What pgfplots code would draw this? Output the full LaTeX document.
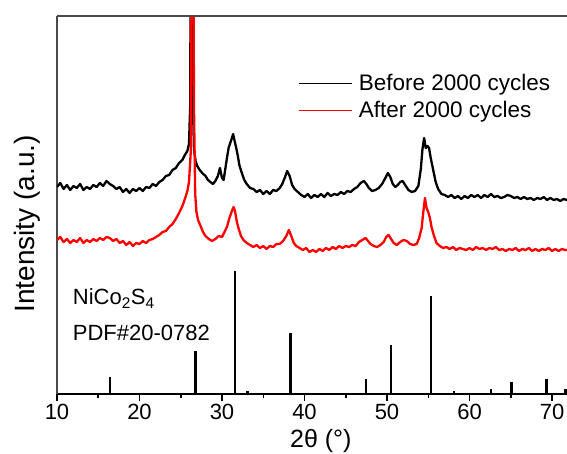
\documentclass[border=0pt]{standalone}
\usepackage{fontspec}
\setmainfont{Liberation Sans}
\usepackage{pgfplots}
\pgfplotsset{compat=1.18}

\definecolor{axgray}{HTML}{4A4A4A}

\begin{document}
\begin{tikzpicture}
  % the reference is cut off at the right, just past 2theta = 71.8
  \useasboundingbox (-57pt,-60pt) rectangle (510pt,394pt);
  \clip (-57pt,-60pt) rectangle (510pt,394pt);
  \begin{axis}[
      at={(0pt,0pt)}, anchor=south west,
      scale only axis,
      width=536.25pt, height=378pt,
      xmin=10, xmax=75,
      ymin=0, ymax=378,
      axis lines*=left,
      x axis line style={-, black, line width=1.5pt},
      y axis line style={-, axgray, line width=1.5pt},
      xtick={10,20,...,70},
      minor x tick num=1,
      ytick=\empty,
      tick align=outside,
      major tick length=7pt,
      minor tick length=4pt,
      every tick/.style={black, line width=1.5pt},
      xticklabel style={font=\fontsize{22}{22}\selectfont},
      /pgf/number format/assume math mode=true,
      xlabel={2θ (°)},
      xlabel style={font=\fontsize{25}{25}\selectfont, at={(axis description cs:0.492,-0.124)}, anchor=center},
      ylabel={Intensity (a.u.)},
      ylabel style={font=\fontsize{28}{28}\selectfont, at={(axis description cs:-0.056,0.45)}, anchor=center},
      legend style={draw=none, fill=none, at={(axis cs:39.2,297)}, anchor=west,
        inner sep=0pt, font=\fontsize{22.5}{22.5}\selectfont,
        nodes={inner sep=1pt}, row sep=7pt},
      legend cell align=left,
      legend image code/.code={\draw[#1, line width=1pt] (0pt,0pt) -- (53pt,0pt); \path (58pt,0pt);},
    ]

    \addplot[black, line width=2.3pt, line join=round] coordinates {
      (10.0,207) (10.4,211) (10.8,205) (11.2,209) (11.6,204) (12.0,208) (12.4,206) (12.8,210)
      (13.2,204) (13.6,207) (14.0,205) (14.4,209) (14.8,207) (15.2,211) (15.6,208) (16.0,213)
      (16.4,210) (16.8,208) (17.2,205) (17.6,207) (18.0,202) (18.4,205) (18.8,201) (19.2,205)
      (19.6,203) (20.0,206) (20.4,203) (20.8,207) (21.2,206) (21.6,210) (22.0,208) (22.4,212)
      (22.8,214) (23.2,218) (23.6,219) (24.0,224) (24.4,226) (24.8,231) (25.2,234) (25.5,239)
      (25.8,243) (26.0,250) (26.15,290) (26.25,600) (26.35,600) (26.45,300) (26.6,245) (26.8,233)
      (27.0,228) (27.3,224) (27.6,221) (28.0,218) (28.3,214) (28.6,212) (28.9,210) (29.2,213)
      (29.5,218) (29.75,226) (30.0,216) (30.2,214) (30.4,225) (30.6,236) (30.8,246) (31.0,251)
      (31.2,256) (31.35,260) (31.5,254) (31.7,247) (31.9,239) (32.1,229) (32.4,221) (32.7,214)
      (33.0,210) (33.4,206) (33.8,205) (34.2,202) (34.6,204) (35.0,200) (35.4,203) (35.8,200)
      (36.2,204) (36.6,203) (37.0,206) (37.3,210) (37.6,216) (37.9,223) (38.2,218) (38.5,209)
      (38.8,205) (39.2,202) (39.6,199) (40.0,197) (40.4,200) (40.8,196) (41.2,199) (41.6,197)
      (42.0,200) (42.4,197) (42.8,201) (43.2,198) (43.6,200) (44.0,199) (44.4,202) (44.8,200)
      (45.2,203) (45.6,202) (46.0,205) (46.4,207) (46.8,211) (47.2,213) (47.5,210) (47.8,206)
      (48.2,203) (48.6,204) (49.0,206) (49.4,210) (49.8,216) (50.1,221) (50.4,217) (50.7,210)
      (51.0,207) (51.3,209) (51.6,212) (51.9,213) (52.2,209) (52.6,204) (53.0,202) (53.4,203)
      (53.8,208) (54.1,225) (54.3,245) (54.5,256) (54.7,246) (54.9,248) (55.1,246) (55.3,236)
      (55.6,224) (55.9,212) (56.2,205) (56.6,200) (57.0,199) (57.4,197) (57.8,199) (58.2,196)
      (58.6,198) (59.0,195) (59.4,198) (59.8,196) (60.2,199) (60.6,197) (61.0,199) (61.4,196)
      (61.8,199) (62.2,197) (62.6,200) (63.0,197) (63.4,198) (63.8,196) (64.2,197) (64.6,199)
      (65.0,198) (65.4,196) (65.8,197) (66.2,195) (66.6,197) (67.0,195) (67.4,196) (67.8,194)
      (68.2,196) (68.6,195) (69.0,197) (69.4,194) (69.8,196) (70.2,194) (70.6,195) (71.0,193)
      (71.4,195) (71.8,194) (72.2,194)
    };
    \addlegendentry{Before 2000 cycles}

    \addplot[red, line width=2.3pt, line join=round] coordinates {
      (10.0,154) (10.4,157) (10.8,152) (11.2,155) (11.6,151) (12.0,154) (12.4,152) (12.8,156)
      (13.2,151) (13.6,154) (14.0,152) (14.4,155) (14.8,153) (15.2,156) (15.6,154) (16.0,157)
      (16.4,156) (16.8,153) (17.2,155) (17.6,151) (18.0,153) (18.4,149) (18.8,152) (19.2,148)
      (19.6,151) (20.0,150) (20.4,153) (20.8,151) (21.2,154) (21.6,155) (22.0,157) (22.4,159)
      (22.8,162) (23.2,163) (23.6,167) (24.0,170) (24.4,175) (24.8,181) (25.2,188) (25.5,195)
      (25.8,203) (26.0,212) (26.2,240) (26.35,600) (26.5,600) (26.6,290) (26.75,200) (26.9,182)
      (27.1,174) (27.4,168) (27.7,162) (28.0,158) (28.4,155) (28.8,153) (29.2,155) (29.6,158)
      (30.0,157) (30.3,162) (30.6,167) (30.9,176) (31.2,183) (31.4,187) (31.6,182) (31.8,172)
      (32.0,166) (32.3,158) (32.6,154) (33.0,151) (33.4,149) (33.8,147) (34.2,149) (34.6,146)
      (35.0,148) (35.4,145) (35.8,148) (36.2,147) (36.6,150) (37.0,150) (37.4,153) (37.8,158)
      (38.1,164) (38.4,158) (38.7,151) (39.0,148) (39.4,146) (39.8,144) (40.2,146) (40.6,142)
      (41.0,144) (41.4,142) (41.8,145) (42.2,143) (42.6,146) (43.0,144) (43.4,147) (43.8,145)
      (44.2,148) (44.6,146) (45.0,148) (45.4,147) (45.8,149) (46.2,148) (46.6,152) (47.0,154)
      (47.4,156) (47.7,153) (48.0,150) (48.4,148) (48.8,147) (49.2,149) (49.6,152) (49.9,157)
      (50.2,159) (50.5,155) (50.8,151) (51.2,149) (51.6,152) (52.0,154) (52.4,153) (52.8,150)
      (53.2,149) (53.6,150) (53.9,156) (54.2,166) (54.4,182) (54.6,196) (54.8,186) (55.0,182)
      (55.2,176) (55.4,167) (55.7,158) (56.0,151) (56.4,148) (56.8,146) (57.2,147) (57.6,145)
      (58.0,147) (58.4,144) (58.8,146) (59.2,145) (59.6,144) (60.0,146) (60.4,144) (60.8,147)
      (61.2,145) (61.6,146) (62.0,144) (62.4,146) (62.8,145) (63.2,147) (63.6,144) (64.0,145)
      (64.4,143) (64.8,145) (65.2,144) (65.6,146) (66.0,143) (66.4,145) (66.8,144) (67.2,146)
      (67.6,143) (68.0,145) (68.4,143) (68.8,145) (69.2,144) (69.6,146) (70.0,143) (70.4,145)
      (70.8,143) (71.2,145) (71.6,144) (72.0,144)
    };
    \addlegendentry{After 2000 cycles}

    % NiCo2S4 reference pattern, PDF#20-0782
    \addplot[ycomb, black, line width=2.4pt, forget plot] coordinates {
      (16.4,17) (26.8,43) (31.6,123) (33.1,2.5) (38.3,61) (47.45,15) (50.5,49)
      (55.3,98) (58.1,2.5) (62.6,5) (65.1,12) (69.35,15) (71.65,5)
    };

    \draw[axgray, line width=1.8pt] (rel axis cs:0,1) -- (rel axis cs:1,1);

    \node[anchor=base west, font=\fontsize{22}{22}\selectfont, inner sep=0pt]
      at (axis cs:11.9,89) {NiCo\textsubscript{2}S\textsubscript{4}};
    \node[anchor=base west, font=\fontsize{22}{22}\selectfont, inner sep=0pt]
      at (axis cs:11.9,53) {PDF\#20-0782};
  \end{axis}
\end{tikzpicture}
\end{document}
